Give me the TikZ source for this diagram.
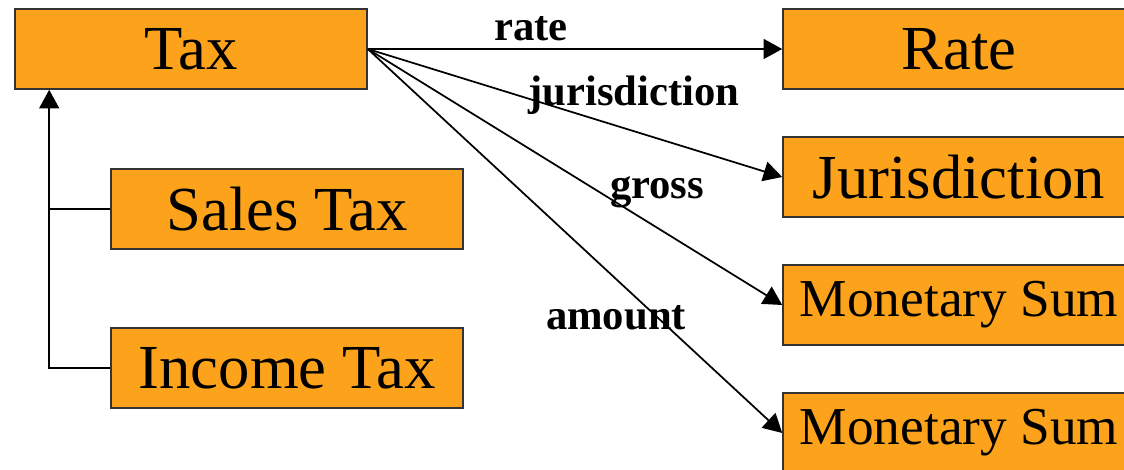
\documentclass[tikz,border=0pt]{standalone}
\usepackage{fontspec}
\setmainfont{Liberation Serif}
\usetikzlibrary{arrows.meta}

\definecolor{boxorange}{RGB}{252,163,27}

\begin{document}
\begin{tikzpicture}[x=0.75pt, y=-0.75pt,
	cls/.style={draw=black!80, line width=1.2pt, fill=boxorange, minimum width=264pt, minimum height=60pt, inner sep=0pt, font=\fontsize{47}{47}\selectfont},
	smallcls/.style={cls, font=\fontsize{40}{40}\selectfont},
	lbl/.style={inner sep=0pt, anchor=base, font=\fontsize{32}{32}\selectfont\bfseries},
	arr/.style={line width=1.3pt, -{Triangle[length=14pt, width=15pt]}}]
	\useasboundingbox (0,0) rectangle (1124,470);
	\clip (0,0) rectangle (1124,470);
	% classes
	\node[cls] (tax) at (191,49) {Tax};
	\node[cls] (sales) at (287,209) {Sales Tax};
	\node[cls] (income) at (287,368) {Income Tax};
	\node[cls] (rate) at (959,49) {Rate};
	\node[cls] (juris) at (959,177) {Jurisdiction};
	\node[smallcls] (sum1) at (959,305) {Monetary Sum};
	\node[smallcls] (sum2) at (959,433) {Monetary Sum};
	% generalisation
	\coordinate (inh) at ([xshift=26.25pt]tax.south west);
	\draw[arr] (income.west) -| (inh);
	\draw[line width=1.3pt] (sales.west) -- (sales.west -| inh);
	% attributes
	\draw[arr] (tax.east) -- (rate.west) node[lbl, pos=0.394, yshift=6pt] {rate};
	\draw[arr] (tax.east) -- (juris.west) node[lbl, pos=0.642, yshift=19pt] {jurisdiction};
	\draw[arr] (tax.east) -- (sum1.west) node[lbl, pos=0.698, yshift=22pt] {gross};
	\draw[arr] (tax.east) -- (sum2.west) node[lbl, pos=0.599, yshift=-37.5pt] {amount};
\end{tikzpicture}
\end{document}
